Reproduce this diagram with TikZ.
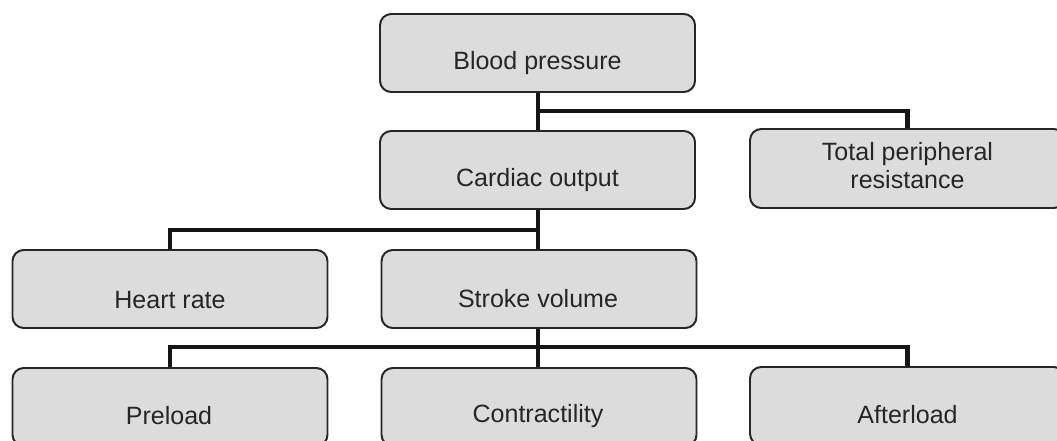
\documentclass[tikz,border=0pt]{standalone}
\usepackage{fontspec}
\setmainfont{Liberation Sans}
\usetikzlibrary{calc}
\definecolor{boxfill}{HTML}{DCDCDC}
\definecolor{boxline}{HTML}{262626}
\definecolor{connline}{HTML}{151515}
\tikzset{
  box/.style={draw=boxline, fill=boxfill, line width=1.4pt, rounded corners=0.28cm,
    minimum width=315*0.025cm, minimum height=78*0.025cm, inner sep=0pt},
  txt/.style={font=\fontsize{17.8pt}{20pt}\selectfont, text=black!85, align=center, inner sep=0pt},
  conn/.style={draw=connline, line width=3.4pt}
}
\begin{document}
\begin{tikzpicture}[x=0.025cm,y=-0.025cm]
\useasboundingbox (0,0) rectangle (1057,440);
\clip (0,0) rectangle (1057,440);
% boxes
\node[box] (bp) at (537.5,53) {};
\node[box] (co) at (537.5,170) {};
\node[box, minimum height=79*0.025cm] (tpr) at (907.5,168.5) {};
\node[box] (hr) at (170,289) {};
\node[box] (sv) at (539,289) {};
\node[box] (pl) at (170,407) {};
\node[box] (ct) at (539,407) {};
\node[box] (al) at (907.5,406) {};
% texts
\node[txt] at ($(bp.center)+(0,10)$) {Blood pressure};
\node[txt] at ($(co.center)+(0,10)$) {Cardiac output};
\node[txt] at ($(tpr.center)+(0,-3)$) {Total peripheral\\resistance};
\node[txt] at ($(hr.center)+(0,11)$) {Heart rate};
\node[txt] at ($(sv.center)+(-1,10)$) {Stroke volume};
\node[txt] at ($(pl.center)+(-1,9)$) {Preload};
\node[txt] at ($(ct.center)+(-1,9)$) {Contractility};
\node[txt] at ($(al.center)+(0,9)$) {Afterload};
% connectors
\coordinate (j1) at (538,111);
\coordinate (j2) at (538,230);
\coordinate (j3) at (538,347);
\draw[conn] (bp.south -| j1) -- (co.north -| j1);
\draw[conn] ([xshift=-1.7pt]j1) -| (tpr.north);
\draw[conn] (co.south -| j2) -- (sv.north -| j2);
\draw[conn] ([xshift=1.7pt]j2) -| (hr.north);
\draw[conn] (sv.south -| j3) -- (ct.north -| j3);
\draw[conn] (pl.north) |- (j3) -| (al.north);
\end{tikzpicture}
\end{document}
